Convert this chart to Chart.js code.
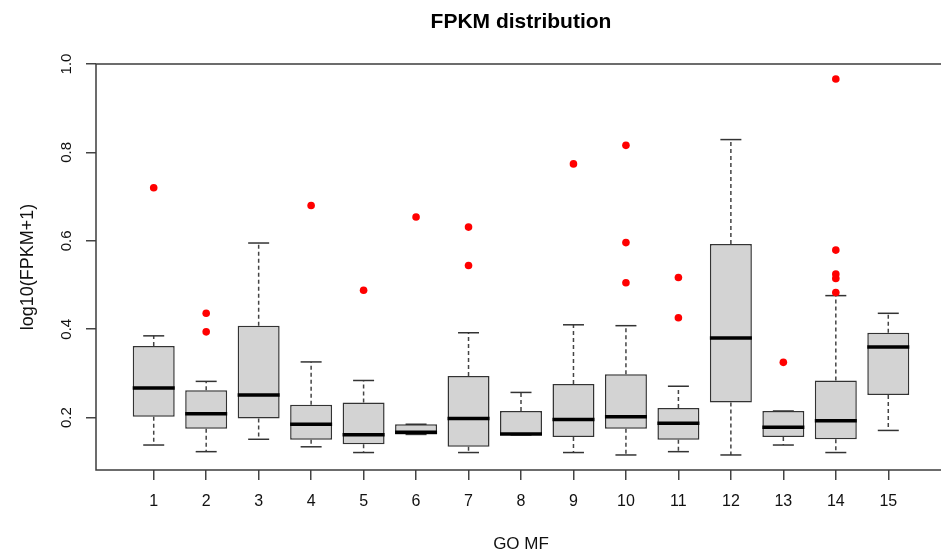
<!DOCTYPE html>
<html>
<head>
<meta charset="utf-8">
<title>FPKM distribution</title>
<script src="https://cdn.jsdelivr.net/npm/chart.js@4.4.1/dist/chart.umd.min.js"></script>
<style>
  html, body { margin: 0; padding: 0; background: #fff; overflow: hidden; }
  #wrap { width: 941px; height: 551px; overflow: hidden; }
</style>
</head>
<body>
<div id="wrap"><canvas id="fpkm" width="960" height="551"></canvas></div>
<script>
// GO MF groups and their box statistics (log10(FPKM+1))
var categories  = [1, 2, 3, 4, 5, 6, 7, 8, 9, 10, 11, 12, 13, 14, 15];
var whiskerLow  = [0.138, 0.123, 0.151, 0.134, 0.121, 0.162, 0.121, 0.161, 0.121, 0.1155, 0.123, 0.1155, 0.138, 0.121, 0.171];
var q1          = [0.202, 0.175, 0.198, 0.150, 0.140, 0.162, 0.134, 0.161, 0.156, 0.175, 0.150, 0.234, 0.156, 0.151, 0.251];
var medians     = [0.267, 0.209, 0.251, 0.185, 0.161, 0.167, 0.198, 0.163, 0.196, 0.202, 0.187, 0.380, 0.178, 0.193, 0.360];
var q3          = [0.362, 0.262, 0.408, 0.229, 0.234, 0.185, 0.294, 0.215, 0.276, 0.298, 0.222, 0.593, 0.215, 0.284, 0.392];
var whiskerHigh = [0.385, 0.282, 0.595, 0.326, 0.284, 0.185, 0.392, 0.257, 0.410, 0.408, 0.271, 0.829, 0.215, 0.476, 0.436];
var outliers = [
  [0.720], [0.436, 0.394], [], [0.680], [0.488], [0.654], [0.631, 0.544], [],
  [0.774], [0.816, 0.596, 0.505], [0.517, 0.426], [], [0.325],
  [0.966, 0.579, 0.525, 0.515, 0.483], []
];
var xTickLabels = ['1','2','3','4','5','6','7','8','9','10','11','12','13','14','15'];
var yTickValues = [0.2, 0.4, 0.6, 0.8, 1.0];
var yTickLabels = ['0.2', '0.4', '0.6', '0.8', '1.0'];

Chart.defaults.font.family = '"Liberation Sans", Arial, sans-serif';
Chart.defaults.color = '#111';

var boxData = categories.map(function (c, i) { return {x: c, y: [q1[i], q3[i]]}; });
var medianData = categories.map(function (c, i) { return {x: c, y: medians[i]}; });
var capData = [];
var whiskerData = [];
categories.forEach(function (c, i) {
  capData.push({x: c, y: whiskerLow[i]}, {x: c, y: whiskerHigh[i]});
  whiskerData.push({x: c, y: q3[i]}, {x: c, y: whiskerHigh[i]}, {x: c, y: null});
  whiskerData.push({x: c, y: q1[i]}, {x: c, y: whiskerLow[i]}, {x: c, y: null});
});
var outlierData = [];
outliers.forEach(function (list, i) {
  list.forEach(function (v) { outlierData.push({x: categories[i], y: v}); });
});

// box around the plot region, like R's bty="o"
var frame = {
  id: 'frame',
  beforeDatasetsDraw: function (chart) {
    var a = chart.chartArea, ctx = chart.ctx;
    ctx.save();
    ctx.strokeStyle = '#3c3c3c';
    ctx.lineWidth = 1.5;
    ctx.strokeRect(a.left, a.top, a.right - a.left, a.bottom - a.top);
    ctx.restore();
  }
};

var ctx = document.getElementById('fpkm').getContext('2d');
var chart = new Chart(ctx, {
  type: 'bar',
  data: {
    datasets: [
      {
        type: 'scatter',
        data: outlierData,
        pointRadius: 3.8,
        pointBackgroundColor: '#ff0000',
        pointBorderWidth: 0,
        order: 0
      },
      {
        type: 'scatter',
        data: medianData,
        pointStyle: 'line',
        pointRadius: 21,
        pointBorderColor: '#000',
        pointBorderWidth: 3.5,
        order: 1
      },
      {
        type: 'bar',
        data: boxData,
        backgroundColor: '#d3d3d3',
        borderColor: '#333',
        borderWidth: 1.5,
        borderSkipped: false,
        barPercentage: 0.8,
        categoryPercentage: 1,
        order: 2
      },
      {
        type: 'scatter',
        data: capData,
        pointStyle: 'line',
        pointRadius: 10.5,
        pointBorderColor: '#333',
        pointBorderWidth: 1.5,
        order: 3
      },
      {
        type: 'line',
        data: whiskerData,
        borderColor: '#444',
        borderWidth: 1.5,
        borderDash: [4, 3],
        pointRadius: 0,
        spanGaps: false,
        fill: false,
        order: 4
      }
    ]
  },
  options: {
    responsive: false,
    devicePixelRatio: 1,
    animation: false,
    layout: { autoPadding: false, padding: { left: 0, right: 14, top: 0, bottom: 0 } },
    plugins: {
      legend: { display: false },
      tooltip: { enabled: false },
      title: {
        display: true,
        text: 'FPKM distribution',
        fullSize: false,
        color: '#000',
        font: { size: 21, weight: 'bold' },
        padding: { top: 10, bottom: 28.8 }
      }
    },
    scales: {
      x: {
        type: 'linear',
        min: -0.1,
        max: 16.1,
        offset: false,
        afterBuildTicks: function (axis) {
          axis.ticks = categories.map(function (c) { return {value: c}; });
        },
        afterFit: function (axis) {
          axis.height = 81;
          axis.paddingLeft = 0;
          axis.paddingRight = 0;
        },
        ticks: {
          padding: 12,
          font: { size: 16 },
          maxRotation: 0,
          autoSkip: false,
          callback: function (v, i) { return xTickLabels[i]; }
        },
        grid: { display: true, drawOnChartArea: false, drawTicks: true, tickLength: 10, color: '#444', lineWidth: 1.5, offset: false },
        border: { display: false },
        title: {
          display: true,
          text: 'GO MF',
          font: { size: 17, lineHeight: 0.8 },
          padding: { top: 0, bottom: 0 }
        }
      },
      y: {
        type: 'linear',
        min: 0.0815,
        max: 1.0,
        afterBuildTicks: function (axis) {
          axis.ticks = yTickValues.map(function (v) { return {value: v}; });
        },
        afterFit: function (axis) {
          axis.width = 96;
          axis.paddingTop = 0;
          axis.paddingBottom = 0;
        },
        ticks: {
          padding: 9,
          font: { size: 15 },
          minRotation: 90,
          maxRotation: 90,
          crossAlign: 'center',
          callback: function (v, i) { return yTickLabels[i]; }
        },
        grid: { display: true, drawOnChartArea: false, drawTicks: true, tickLength: 10, color: '#444', lineWidth: 1.5 },
        border: { display: false },
        title: {
          display: true,
          text: 'log10(FPKM+1)',
          font: { size: 18 },
          padding: { top: 17.5, bottom: 0 }
        }
      }
    }
  },
  plugins: [frame]
});
</script>
</body>
</html>
